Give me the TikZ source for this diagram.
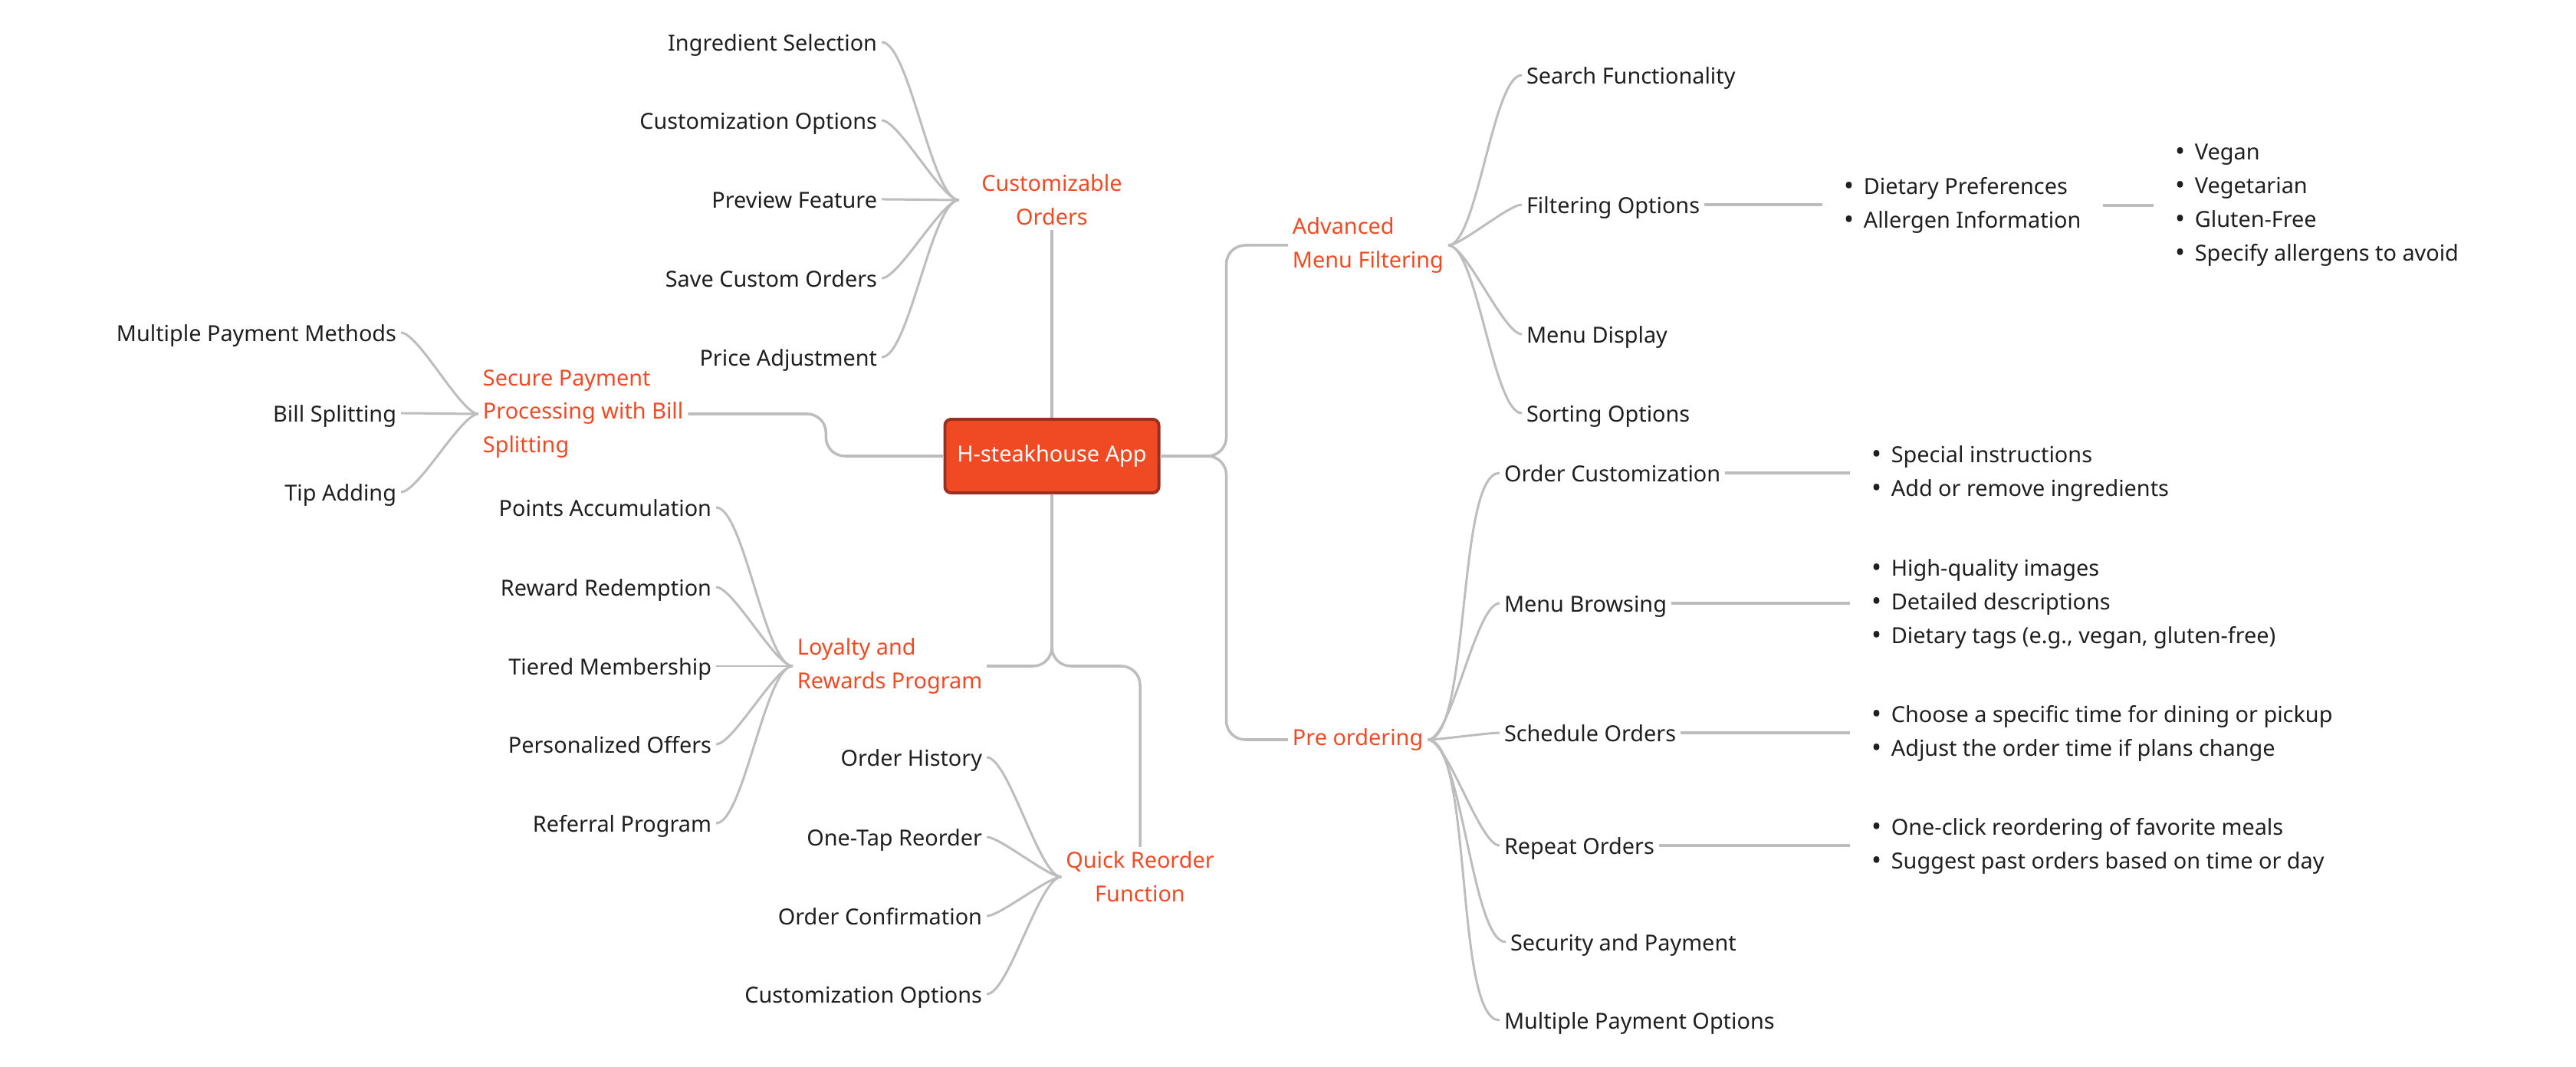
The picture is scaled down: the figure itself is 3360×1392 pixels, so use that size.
\documentclass[tikz,border=0pt]{standalone}
\usepackage{fontspec}
\setmainfont{Noto Sans}
\usetikzlibrary{positioning}

\definecolor{accent}{HTML}{F04A24}
\definecolor{accentdark}{HTML}{9A2E1F}
\definecolor{wire}{HTML}{BDBDBD}
\definecolor{ink}{HTML}{1F1F1F}
\newcommand{\bul}{\makebox[0.25cm][l]{\raisebox{-0.05ex}{\scalebox{1.2}{\textbullet}}}}

\begin{document}
\begin{tikzpicture}[
  x=0.01cm, y=-0.01cm,
  every node/.style={font=\fontsize{8.2}{12.5}\selectfont},
  rootbox/.style={draw=accentdark, fill=accent, text=white, line width=1.1pt,
    rounded corners=2.3pt, minimum width=2.79cm, minimum height=0.96cm},
  topic/.style={text=accent, inner sep=1.5pt},
  leaf/.style={text=ink, inner sep=1.5pt, text height=1.5ex, text depth=0.3ex},
  bullets/.style={text=ink, align=left, inner xsep=8pt, inner ysep=1.5pt},
  trunk/.style={draw=wire, line width=1pt, rounded corners=7pt},
  twig/.style={draw=wire, line width=0.85pt},
  link/.style={draw=wire, line width=1.3pt},
  swoop/.style={out=0, in=180, looseness=0.4}
]
\useasboundingbox (0,0) rectangle (3360,1392);

% Root
\node[rootbox] (app) at (1372,595) {H-steakhouse App};

% Main topics
\node[topic, align=center, text width=2.3cm] (cust) at (1372,261) {Customizable\\Orders};
\node[topic, align=left, anchor=west] (pay) at (624,540) {Secure Payment\\Processing with Bill\\Splitting};
\node[topic, align=left, anchor=west] (loyal) at (1034,869) {Loyalty and\\Rewards Program};
\node[topic, align=center] (quick) at (1487,1144) {Quick Reorder\\Function};
\node[topic, align=left, anchor=west] (adv) at (1680,320) {Advanced\\Menu Filtering};
\node[topic, anchor=west] (pre) at (1680,965) {Pre ordering};

% Trunk lines
\draw[trunk] (app.north) -- (cust.south);
\draw[trunk] (pay.east) -- ++(180,0) |- (app.west);
\draw[trunk] (app.south) |- (loyal.east);
\draw[trunk] (app.south) |- (quick.north |- loyal.east) -- (quick.north);
\draw[trunk] (app.east) -- ++(86,0) |- (adv.west);
\draw[trunk] (app.east) -- ++(86,0) |- (pre.west);

% Customizable orders
\node[leaf, anchor=east] (c1) at (1150,55) {Ingredient Selection};
\node[leaf, anchor=east] (c2) at (1150,157) {Customization Options};
\node[leaf, anchor=east] (c3) at (1150,260) {Preview Feature};
\node[leaf, anchor=east] (c4) at (1150,363) {Save Custom Orders};
\node[leaf, anchor=east] (c5) at (1150,466) {Price Adjustment};
\draw[twig] (c1.east) to[swoop] (cust.west);
\draw[twig] (c2.east) to[swoop] (cust.west);
\draw[twig] (c3.east) to[swoop] (cust.west);
\draw[twig] (c4.east) to[swoop] (cust.west);
\draw[twig] (c5.east) to[swoop] (cust.west);

% Payment
\node[leaf, anchor=east] (p1) at (523,434) {Multiple Payment Methods};
\node[leaf, anchor=east] (p2) at (523,539) {Bill Splitting};
\node[leaf, anchor=east] (p3) at (523,642) {Tip Adding};
\draw[twig] (p1.east) to[swoop] (pay.west);
\draw[twig] (p2.east) to[swoop] (pay.west);
\draw[twig] (p3.east) to[swoop] (pay.west);

% Loyalty
\node[leaf, anchor=east] (l1) at (934,662) {Points Accumulation};
\node[leaf, anchor=east] (l2) at (934,766) {Reward Redemption};
\node[leaf, anchor=east] (l3) at (934,869) {Tiered Membership};
\node[leaf, anchor=east] (l4) at (934,971) {Personalized Offers};
\node[leaf, anchor=east] (l5) at (934,1074) {Referral Program};
\draw[twig] (l1.east) to[swoop] (loyal.west);
\draw[twig] (l2.east) to[swoop] (loyal.west);
\draw[twig] (l3.east) to[swoop] (loyal.west);
\draw[twig] (l4.east) to[swoop] (loyal.west);
\draw[twig] (l5.east) to[swoop] (loyal.west);

% Quick reorder
\node[leaf, anchor=east] (q1) at (1287,988) {Order History};
\node[leaf, anchor=east] (q2) at (1287,1092) {One-Tap Reorder};
\node[leaf, anchor=east] (q3) at (1287,1195) {Order Confirmation};
\node[leaf, anchor=east] (q4) at (1287,1297) {Customization Options};
\draw[twig] (q1.east) to[swoop] (quick.west);
\draw[twig] (q2.east) to[swoop] (quick.west);
\draw[twig] (q3.east) to[swoop] (quick.west);
\draw[twig] (q4.east) to[swoop] (quick.west);

% Advanced filtering
\node[leaf, anchor=west] (a1) at (1985,98) {Search Functionality};
\node[leaf, anchor=west] (a2) at (1985,267) {Filtering Options};
\node[leaf, anchor=west] (a3) at (1985,436) {Menu Display};
\node[leaf, anchor=west] (a4) at (1985,539) {Sorting Options};
\draw[twig] (adv.east) to[swoop] (a1.west);
\draw[twig] (adv.east) to[swoop] (a2.west);
\draw[twig] (adv.east) to[swoop] (a3.west);
\draw[twig] (adv.east) to[swoop] (a4.west);

\node[bullets, anchor=west] (diet) at (2377,268) {\bul Dietary Preferences\\\bul Allergen Information};
\node[bullets, anchor=west] (allerg) at (2809,268) {\bul Vegan\\\bul Vegetarian\\\bul Gluten-Free\\\bul Specify allergens to avoid};
\draw[link] (a2.east) -- (a2.east -| diet.west);
\draw[link] (diet.east) -- (allerg.west);

% Pre ordering
\node[leaf, anchor=west] (o1) at (1956,617) {Order Customization};
\node[leaf, anchor=west] (o2) at (1956,787) {Menu Browsing};
\node[leaf, anchor=west] (o3) at (1956,956) {Schedule Orders};
\node[leaf, anchor=west] (o4) at (1956,1103) {Repeat Orders};
\node[leaf, anchor=west] (o5) at (1964,1229) {Security and Payment};
\node[leaf, anchor=west] (o6) at (1956,1331) {Multiple Payment Options};
\draw[twig] (pre.east) to[swoop] (o1.west);
\draw[twig] (pre.east) to[swoop] (o2.west);
\draw[twig] (pre.east) to[swoop] (o3.west);
\draw[twig] (pre.east) to[swoop] (o4.west);
\draw[twig] (pre.east) to[swoop] (o5.west);
\draw[twig] (pre.east) to[swoop] (o6.west);

\node[bullets, anchor=west] (ocl) at (2413,618) {\bul Special instructions\\\bul Add or remove ingredients};
\node[bullets, anchor=west] (mbl) at (2413,788) {\bul High-quality images\\\bul Detailed descriptions\\\bul Dietary tags (e.g., vegan, gluten-free)};
\node[bullets, anchor=west] (sol) at (2413,957) {\bul Choose a specific time for dining or pickup\\\bul Adjust the order time if plans change};
\node[bullets, anchor=west] (rol) at (2413,1104) {\bul One-click reordering of favorite meals\\\bul Suggest past orders based on time or day};
\draw[link] (o1.east) -- (o1.east -| ocl.west);
\draw[link] (o2.east) -- (o2.east -| mbl.west);
\draw[link] (o3.east) -- (o3.east -| sol.west);
\draw[link] (o4.east) -- (o4.east -| rol.west);

\end{tikzpicture}
\end{document}
